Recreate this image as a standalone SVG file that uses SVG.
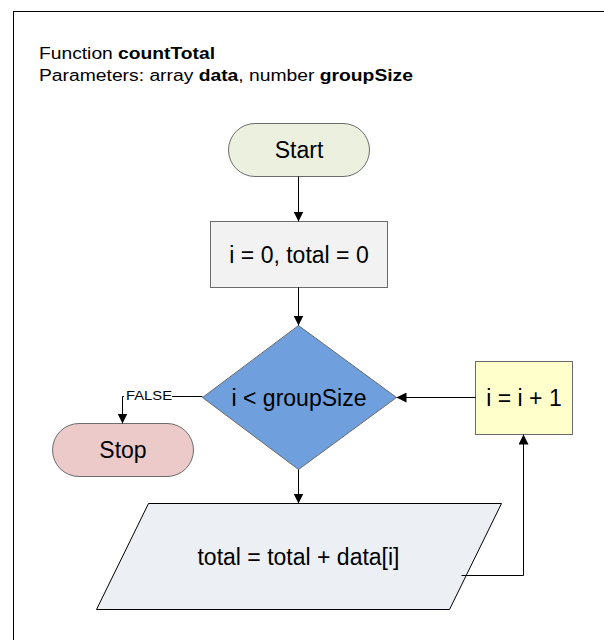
<svg xmlns="http://www.w3.org/2000/svg" width="604" height="640" viewBox="0 0 604 640">
  <defs>
    <marker id="arrow" markerWidth="10" markerHeight="10" refX="10" refY="5" orient="auto" markerUnits="userSpaceOnUse">
      <path d="M0,0 L10,5 L0,10 Z" fill="#000"/>
    </marker>
    <style>
      .lbl { font-family: "Liberation Sans", Arial, sans-serif; font-size: 23px; fill: #000; text-anchor: middle; dominant-baseline: central; }
      .title { font-family: "Liberation Sans", Arial, sans-serif; font-size: 16px; fill: #000; }
      .edge { fill: none; stroke: #000; stroke-width: 1; }
      .shape { stroke: #6b6b6b; stroke-width: 1; }
    </style>
  </defs>

  <rect x="0" y="0" width="604" height="640" fill="#fff"/>
  <!-- frame -->
  <rect x="13.5" y="11.5" width="600" height="640" fill="none" stroke="#000" stroke-width="1"/>

  <!-- header -->
  <text class="title" x="39" y="59" textLength="176" lengthAdjust="spacingAndGlyphs">Function <tspan font-weight="bold">countTotal</tspan></text>
  <text class="title" x="39" y="81" textLength="374" lengthAdjust="spacingAndGlyphs">Parameters: array <tspan font-weight="bold">data</tspan>, number <tspan font-weight="bold">groupSize</tspan></text>

  <g id="start">
    <rect class="shape" x="228.5" y="123.5" width="141" height="53" rx="26.5" fill="#ebf1de"/>
    <text class="lbl" x="299" y="150">Start</text>
  </g>

  <g id="init">
    <rect class="shape" x="210.5" y="221.5" width="177" height="66" fill="#f2f2f2"/>
    <text class="lbl" x="299" y="254.5">i = 0, total = 0</text>
  </g>

  <g id="cond">
    <polygon class="shape" points="298.5,325.5 396.5,397.5 298.5,469.5 202.5,397.5" fill="#6f9fdc" stroke="#3f5f8f"/>
    <text class="lbl" x="299" y="397.5">i &lt; groupSize</text>
  </g>

  <g id="stop">
    <rect class="shape" x="52.5" y="423.5" width="141" height="53" rx="26.5" fill="#eccaca"/>
    <text class="lbl" x="123" y="450">Stop</text>
  </g>

  <g id="incr">
    <rect class="shape" x="475.5" y="361.5" width="97" height="73" fill="#ffffcc"/>
    <text class="lbl" x="524" y="397.5">i = i + 1</text>
  </g>

  <g id="accum">
    <polygon points="148.5,503.5 501.5,503.5 449.5,609.5 96.5,609.5" fill="#eceff4" stroke="#000" stroke-width="1"/>
    <text class="lbl" x="298.5" y="556.5">total = total + data[i]</text>
  </g>

  <g id="connectors">
    <line class="edge" x1="298.5" y1="176.5" x2="298.5" y2="221.5" marker-end="url(#arrow)"/>
    <line class="edge" x1="298.5" y1="287.5" x2="298.5" y2="325.5" marker-end="url(#arrow)"/>
    <line class="edge" x1="298.5" y1="469.5" x2="298.5" y2="503.5" marker-end="url(#arrow)"/>
    <polyline class="edge" points="202.5,396.5 122.5,396.5 122.5,423.5" marker-end="url(#arrow)"/>
    <rect x="124" y="388" width="48" height="13" fill="#fff"/>
    <text x="126" y="400" font-family="Liberation Sans, Arial, sans-serif" font-size="12" textLength="46" lengthAdjust="spacingAndGlyphs">FALSE</text>
    <line class="edge" x1="475.5" y1="397.5" x2="396.5" y2="397.5" marker-end="url(#arrow)"/>
    <polyline class="edge" points="461.5,575.5 523.5,575.5 523.5,434.5" marker-end="url(#arrow)"/>
  </g>
</svg>
